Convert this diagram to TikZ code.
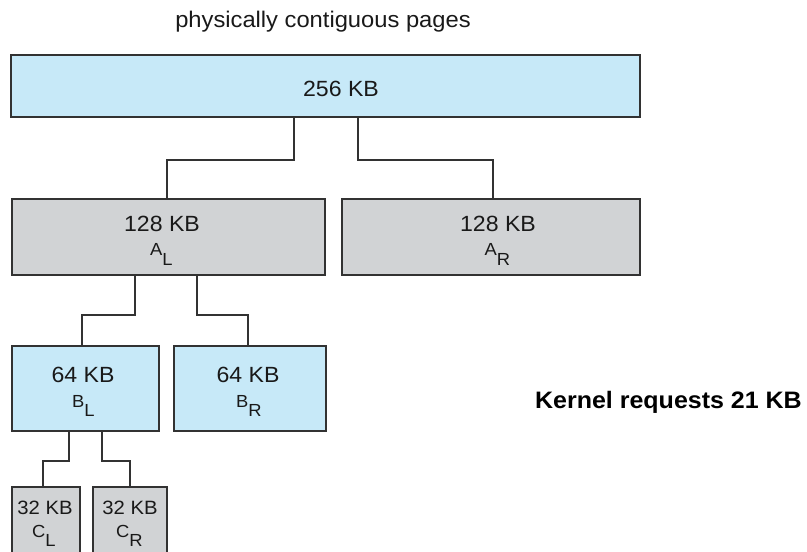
\documentclass[tikz,border=0pt]{standalone}
\usepackage{fontspec}
\setmainfont{Liberation Sans}
\newfontfamily\widefont[FakeStretch=1.05]{Liberation Sans}
\definecolor{boxblue}{RGB}{199,233,248}
\definecolor{boxgray}{RGB}{209,211,213}
\definecolor{lineC}{RGB}{50,50,50}
\definecolor{txtC}{RGB}{25,25,25}
\begin{document}
\begin{tikzpicture}[x=1pt,y=-1pt,
  blk/.style={draw=lineC, line width=1.3pt, inner sep=0pt, anchor=center},
  bluebox/.style={blk, fill=boxblue},
  graybox/.style={blk, fill=boxgray},
  conn/.style={draw=lineC, line width=1.3pt},
  lab/.style={inner sep=0pt, anchor=base, text=txtC, font=\widefont\fontsize{22}{25}\selectfont},
  smalllab/.style={inner sep=0pt, anchor=base, text=txtC, font=\widefont\fontsize{19.3}{22}\selectfont},
  sublab/.style={inner sep=0pt, anchor=base west, text=txtC, font=\widefont\fontsize{17.5}{20}\selectfont},
  hdr/.style={inner sep=0pt, anchor=base, text=txtC, font=\widefont\fontsize{22.6}{26}\selectfont},
  kern/.style={inner sep=0pt, anchor=base, text=black, font=\widefont\bfseries\fontsize{23.8}{27}\selectfont}]
\useasboundingbox[fill=white] (0,0) rectangle (807,552);
\clip (0,0) rectangle (807,552);

% boxes
\node[bluebox, minimum width=629pt, minimum height=62pt] (top) at (325.5,86) {};
\node[graybox, minimum width=313pt, minimum height=76pt] (AL) at (168.5,237) {};
\node[graybox, minimum width=298pt, minimum height=76pt] (AR) at (491,237) {};
\node[bluebox, minimum width=147pt, minimum height=85pt] (BL) at (85.5,388.5) {};
\node[bluebox, minimum width=152pt, minimum height=85pt] (BR) at (250,388.5) {};
\node[graybox, minimum width=68pt, minimum height=83pt] (CL) at (46,528.5) {};
\node[graybox, minimum width=74pt, minimum height=83pt] (CR) at (130,528.5) {};

% connectors
\draw[conn] (top.south -| 294,0) |- (167,160) -- (AL.north -| 167,0);
\draw[conn] (top.south -| 358,0) |- (493,160) -- (AR.north -| 493,0);
\draw[conn] (AL.south -| 135,0) |- (82,315) -- (BL.north -| 82,0);
\draw[conn] (AL.south -| 197,0) |- (248,315) -- (BR.north -| 248,0);
\draw[conn] (BL.south -| 69,0) |- (43,461) -- (CL.north -| 43,0);
\draw[conn] (BL.south -| 102,0) |- (130,461) -- (CR.north -| 130,0);

% labels
\node[hdr] (h) at (323,27) {physically contiguous pages};
\node[lab] (t256) at (341,96.5) {256 KB};
\node[lab] (tAL) at (162,231) {128 KB};
\node[sublab] (sAL) at (150,255.5) {A\raisebox{-9.5pt}{L}};
\node[lab] (tAR) at (498,231) {128 KB};
\node[sublab] (sAR) at (484.5,255.5) {A\raisebox{-9.5pt}{R}};
\node[lab] (tBL) at (83,382) {64 KB};
\node[sublab] (sBL) at (72,407) {B\raisebox{-9.5pt}{L}};
\node[lab] (tBR) at (248,382) {64 KB};
\node[sublab] (sBR) at (236,407) {B\raisebox{-9.5pt}{R}};
\node[smalllab] (tCL) at (45,514.5) {32 KB};
\node[sublab] (sCL) at (32,537) {C\raisebox{-9.5pt}{L}};
\node[smalllab] (tCR) at (130,514.5) {32 KB};
\node[sublab] (sCR) at (116,537) {C\raisebox{-9.5pt}{R}};
\node[kern] (kr) at (668.5,408) {Kernel requests 21 KB};
\end{tikzpicture}
\end{document}
